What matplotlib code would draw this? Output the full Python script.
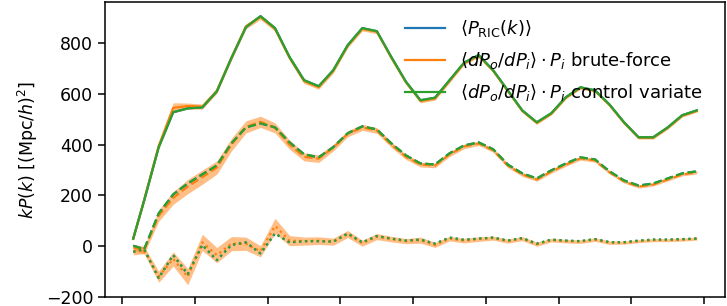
import numpy as np
import matplotlib
matplotlib.use("Agg")
import matplotlib.pyplot as plt

# k bin centres [h/Mpc]
k = np.array([0.0075, 0.015, 0.025, 0.035, 0.045, 0.055, 0.065, 0.075, 0.085, 0.095,
              0.105, 0.115, 0.125, 0.135, 0.145, 0.155, 0.165, 0.175, 0.185, 0.195,
              0.205, 0.215, 0.225, 0.235, 0.245, 0.255, 0.265, 0.275, 0.285, 0.295,
              0.305, 0.315, 0.325, 0.335, 0.345, 0.355, 0.365, 0.375, 0.385, 0.395])

# monopole (solid)
p0_ric = [30, 180, 390, 528, 543, 547, 610, 741, 863, 906,
          859, 745, 654, 630, 693, 792, 859, 847, 745, 648,
          575, 585, 654, 723, 753, 693, 614, 535, 488, 524,
          587, 626, 614, 558, 488, 429, 429, 468, 516, 535]
p0_bf = [30, 182, 395, 545, 552, 550, 612, 742, 866, 903,
         856, 742, 650, 627, 690, 790, 856, 845, 742, 646,
         572, 582, 651, 721, 750, 691, 612, 533, 486, 522,
         585, 624, 612, 556, 486, 427, 427, 466, 514, 533]
p0_bf_err = [10, 12, 14, 20, 12, 10, 10, 10, 10, 10,
             9, 9, 9, 9, 8, 8, 8, 8, 7, 7,
             7, 7, 7, 6, 6, 6, 6, 6, 6, 5,
             5, 5, 5, 5, 5, 5, 5, 5, 5, 5]
p0_cv = p0_ric

# quadrupole (dashed)
p2_ric = [2, -12, 129, 204, 247, 283, 318, 405, 468, 484,
          468, 409, 362, 350, 390, 445, 472, 460, 405, 358,
          326, 322, 366, 397, 409, 382, 322, 287, 267, 299,
          326, 350, 342, 295, 259, 239, 247, 267, 287, 295]
p2_bf = [-5, -15, 120, 190, 235, 272, 310, 400, 470, 490,
         466, 400, 352, 345, 388, 443, 468, 456, 400, 352,
         322, 318, 362, 393, 405, 378, 318, 283, 263, 295,
         322, 346, 338, 291, 255, 235, 243, 263, 283, 291]
p2_bf_err = [12, 15, 22, 25, 28, 28, 26, 25, 24, 22,
             20, 18, 16, 15, 13, 12, 12, 11, 11, 10,
             10, 9, 9, 9, 8, 8, 8, 8, 7, 7,
             7, 7, 7, 6, 6, 6, 6, 6, 6, 6]
p2_cv = p2_ric

# hexadecapole (dotted)
p4_ric = [-22, -12, -125, -35, -110, 5, -55, 5, 15, -28,
          50, 15, 20, 20, 18, 50, 15, 40, 30, 22,
          26, 10, 34, 25, 30, 34, 22, 32, 10, 26,
          22, 20, 28, 16, 16, 22, 26, 26, 28, 30]
p4_bf = [-22, -15, -120, -50, -120, 15, -35, 10, 10, -20,
         80, 22, 20, 22, 18, 48, 12, 38, 28, 20,
         24, 5, 30, 22, 28, 32, 20, 30, 8, 24,
         20, 18, 26, 14, 14, 20, 24, 24, 26, 30]
p4_bf_err = [12, 14, 22, 28, 32, 32, 30, 28, 26, 22,
             30, 20, 16, 15, 14, 14, 12, 12, 11, 10,
             12, 10, 9, 9, 9, 8, 8, 8, 8, 7,
             7, 7, 7, 7, 6, 6, 6, 6, 6, 6]
p4_cv = p4_ric

labels = [r'$\langle P_{\mathrm{RIC}}(k)\rangle$',
          r'$\langle dP_o/dP_i\rangle \cdot P_i$ brute-force',
          r'$\langle dP_o/dP_i\rangle \cdot P_i$ control variate']

plt.rcParams['font.size'] = 12.5

fig = plt.figure(figsize=(7.27, 3.06), dpi=100)
ax = fig.add_axes([105 / 727, 9 / 306, 620 / 727, 295 / 306])

groups = [(p0_ric, p0_bf, p0_bf_err, p0_cv, '-'),
          (p2_ric, p2_bf, p2_bf_err, p2_cv, '--'),
          (p4_ric, p4_bf, p4_bf_err, p4_cv, ':')]

for n, (ric, bf, err, cv, ls) in enumerate(groups):
    ric, bf, err, cv = map(np.asarray, (ric, bf, err, cv))
    lab = labels if n == 0 else [None, None, None]
    ax.plot(k, ric, ls=ls, color='C0', lw=1.6, label=lab[0])
    ax.plot(k, bf, ls=ls, color='C1', lw=1.6, label=lab[1])
    ax.fill_between(k, bf - err, bf + err, color='C1', alpha=0.5, lw=0)
    ax.plot(k, cv, ls=ls, color='C2', lw=1.6, label=lab[2])

ax.set_xlim(-0.0119, 0.4144)
ax.set_ylim(-200, 962)
ax.set_xticks(np.arange(0, 0.41, 0.05))
ax.set_yticks([-200, 0, 200, 400, 600, 800])
ax.tick_params(labelbottom=False, length=5, width=1.1)
for s in ax.spines.values():
    s.set_linewidth(1.1)
ax.set_ylabel(r'$kP(k)$ [(Mpc/$h$)$^2$]')

ax.legend(loc='upper right', frameon=False, bbox_to_anchor=(0.99, 1.0),
          fontsize=13, handlelength=2.2, labelspacing=0.6)

fig.savefig('out.png', dpi=100)
